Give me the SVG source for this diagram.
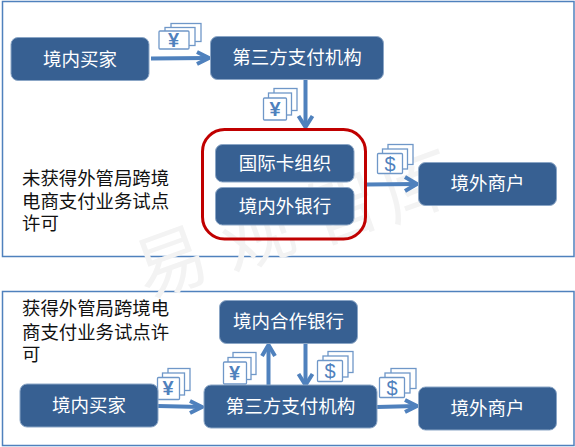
<svg xmlns="http://www.w3.org/2000/svg" width="575" height="447" viewBox="0 0 575 447">
<style>
text{font-family:"Liberation Sans","Noto Sans CJK SC",sans-serif}
.panel{fill:#fff;stroke:#4f81bd;stroke-width:1.5}
.n{fill:#376092;stroke:#8ba6c6;stroke-width:1}
.t{fill:#fff;font-size:18.5px;text-anchor:middle}
.c{fill:#111;font-size:18.4px}
.w{fill:#f3f3f3;font-size:72px}
.l{fill:none;stroke:#4f81bd;stroke-width:4}
.b{fill:#fff;stroke:#6f97c8;stroke-width:1.3}
.s{fill:#4f81bd;font-size:20px;font-weight:700;text-anchor:middle}
.d{font-weight:400}
</style>
<rect class="panel" x="2.500" y="1.500" width="571.500" height="255"/>
<rect class="panel" x="2.500" y="291.500" width="571.500" height="154"/>
<g id="watermark" class="w"><text transform="translate(146 299) rotate(-20)">易</text><text transform="translate(232 272) rotate(-20)">观</text><text transform="translate(318 245) rotate(-20)">智</text><text transform="translate(392 222) rotate(-20)">库</text></g>
<g id="connectors">
<path class="l" d="M151 58.500L207 58"/><path class="l" d="M197 52L209 58L197 64"/>
<path class="l" d="M305.500 78V126"/><path class="l" d="M298.500 116L305.500 127L312.500 116"/>
<path class="l" d="M367 184.500L416 184"/><path class="l" d="M405 177L417 184L405 191"/>
<path class="l" d="M158 406L201 407"/><path class="l" d="M190 401L202 407L190 413"/>
<path class="l" d="M268.500 385V346"/><path class="l" d="M262 356L268.500 345L275 356"/>
<path class="l" d="M305.500 343V384"/><path class="l" d="M298.500 374L305.500 385L312.500 374"/>
<path class="l" d="M377 407L416 406"/><path class="l" d="M405 400L417 406L405 412"/>
</g>
<g id="money-1"><rect class="b" x="171" y="23.500" width="30" height="18"/><rect class="b" x="165" y="27.500" width="30" height="18"/><rect class="b" x="159" y="31" width="30" height="18" rx="1"/><text class="s" x="173.500" y="47">¥</text></g>
<g id="money-2"><rect class="b" x="274" y="88.500" width="23" height="22"/><rect class="b" x="268.500" y="93" width="23" height="22"/><rect class="b" x="263.500" y="98" width="23" height="22" rx="1"/><text class="s" x="275" y="116">¥</text></g>
<g id="money-3"><rect class="b" x="388" y="144.500" width="25" height="20"/><rect class="b" x="382.500" y="149" width="25" height="20"/><rect class="b" x="377.500" y="153.500" width="25" height="20" rx="1"/><text class="s d" x="390" y="170.500">$</text></g>
<g id="money-4"><rect class="b" x="168" y="368.500" width="22" height="22"/><rect class="b" x="162.500" y="373" width="22" height="22"/><rect class="b" x="157.500" y="377.500" width="22" height="22" rx="1"/><text class="s" x="168" y="395">¥</text></g>
<g id="money-5"><rect class="b" x="233" y="352.500" width="23" height="22"/><rect class="b" x="228" y="357.500" width="23" height="22"/><rect class="b" x="223.500" y="362" width="23" height="22" rx="1"/><text class="s" x="234.500" y="380">¥</text></g>
<g id="money-6"><rect class="b" x="328" y="351.500" width="25" height="21"/><rect class="b" x="323" y="356" width="25" height="21"/><rect class="b" x="317.500" y="360.500" width="25" height="21" rx="1"/><text class="s d" x="330" y="378">$</text></g>
<g id="money-7"><rect class="b" x="391" y="368.500" width="25" height="20"/><rect class="b" x="385" y="373" width="25" height="20"/><rect class="b" x="379.500" y="377.500" width="25" height="20" rx="1"/><text class="s d" x="392" y="394.500">$</text></g>
<g id="outer-box"><rect x="202.500" y="129.500" width="163" height="109.500" rx="22" fill="none" stroke="#c00000" stroke-width="3"/></g>
<g id="n-buyer-1"><rect class="n" x="11" y="37.500" width="138" height="43" rx="7"/><text class="t" x="80" y="65.500">境内买家</text></g>
<g id="n-pay-1"><rect class="n" x="210.500" y="36.500" width="173" height="43" rx="7"/><text class="t" x="297" y="64">第三方支付机构</text></g>
<g id="n-card"><rect class="n" x="215.500" y="144.500" width="138.500" height="37.500" rx="7"/><text class="t" x="285" y="170">国际卡组织</text></g>
<g id="n-bank"><rect class="n" x="215.500" y="187.500" width="138.500" height="37.500" rx="7"/><text class="t" x="285" y="213">境内外银行</text></g>
<g id="n-merchant-1"><rect class="n" x="418.500" y="162.500" width="138" height="43" rx="7"/><text class="t" x="487.500" y="190">境外商户</text></g>
<g id="n-partner"><rect class="n" x="219.500" y="300.500" width="138" height="43" rx="7"/><text class="t" x="288.500" y="328">境内合作银行</text></g>
<g id="n-buyer-2"><rect class="n" x="20" y="384" width="138" height="43" rx="7"/><text class="t" x="89" y="412">境内买家</text></g>
<g id="n-pay-2"><rect class="n" x="204" y="385" width="173" height="43" rx="7"/><text class="t" x="290.500" y="413">第三方支付机构</text></g>
<g id="n-merchant-2"><rect class="n" x="418.500" y="387" width="138" height="43" rx="7"/><text class="t" x="487.500" y="415">境外商户</text></g>
<g id="note-1" class="c"><text x="22" y="185">未获得外管局跨境</text><text x="22" y="208">电商支付业务试点</text><text x="22" y="230">许可</text></g>
<g id="note-2" class="c"><text x="22" y="315">获得外管局跨境电</text><text x="22" y="339">商支付业务试点许</text><text x="22" y="361">可</text></g>
</svg>
